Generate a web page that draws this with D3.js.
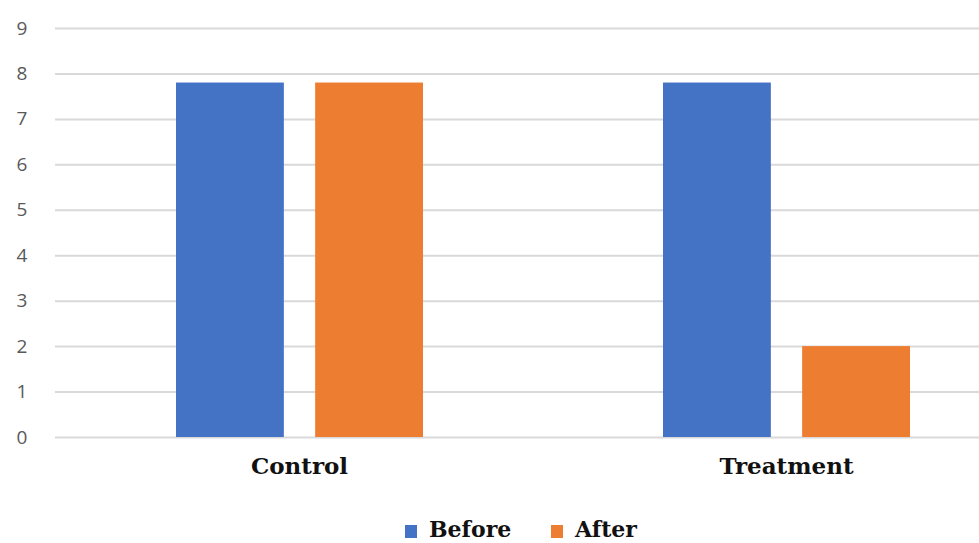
<!DOCTYPE html>
<html>
<head>
<meta charset="utf-8">
<script src="https://cdn.jsdelivr.net/npm/d3@7"></script>
<style>
  body { margin: 0; background: #fff; overflow: hidden; }
  .grid line { stroke: #d9d9d9; stroke-width: 2px; }
  .yaxis text { fill: #595959; font-family: "Open Sans", sans-serif; font-size: 19px; }
  .xlab { font-family: "DejaVu Serif", serif; font-weight: bold; font-size: 23px; fill: #111; }
  .legend text { font-family: "DejaVu Serif", serif; font-weight: bold; font-size: 22px; fill: #111; }
</style>
</head>
<body>
<svg width="979" height="543"></svg>
<script>
var categories = ["Control", "Treatment"];
var series = ["Before", "After"];
var beforeValues = [7.8, 7.8];
var afterValues = [7.8, 2];
var yTicks = [0, 1, 2, 3, 4, 5, 6, 7, 8, 9];
var colors = ["#4472c4", "#ed7d31"];

var svg = d3.select("svg");

var y = d3.scaleLinear()
    .domain([0, 9])
    .range([437, 28]);

// plot runs past the right edge, like the cropped picture
var x0 = d3.scaleBand()
    .domain(categories)
    .range([56, 1030]);

var x1 = d3.scaleBand()
    .domain(series)
    .range([120, 367])
    .paddingInner(0.225);

var color = d3.scaleOrdinal().domain(series).range(colors);

// gridlines
svg.append("g")
    .attr("class", "grid")
    .attr("transform", "translate(55,0)")
    .call(d3.axisLeft(y).tickValues(yTicks).tickSize(-930).tickFormat(""))
    .call(function(g) { g.select(".domain").remove(); });

// y labels
svg.append("g")
    .attr("class", "yaxis")
    .attr("transform", "translate(31,0)")
    .call(d3.axisLeft(y).tickValues(yTicks).tickSize(0).tickPadding(0).tickFormat(d3.format("d")))
    .call(function(g) { g.select(".domain").remove(); })
    .selectAll("text").attr("text-anchor", "middle").attr("dx", "-9");

var rows = categories.map(function(c, i) {
  return { cat: c, vals: [{ s: "Before", v: beforeValues[i] }, { s: "After", v: afterValues[i] }] };
});

var groups = svg.append("g").selectAll("g")
    .data(rows)
    .enter().append("g")
      .attr("transform", function(d) { return "translate(" + x0(d.cat) + ",0)"; });

groups.selectAll("rect")
    .data(function(d) { return d.vals; })
    .enter().append("rect")
      .attr("x", function(d) { return x1(d.s); })
      .attr("width", x1.bandwidth())
      .attr("y", function(d) { return y(d.v); })
      .attr("height", function(d) { return y(0) - y(d.v); })
      .attr("fill", function(d) { return color(d.s); });

groups.append("text")
    .attr("class", "xlab")
    .attr("x", x0.bandwidth() / 2)
    .attr("y", 474)
    .attr("text-anchor", "middle")
    .text(function(d) { return d.cat; });

// legend
var legend = svg.append("g").attr("class", "legend");
var legendX = [405, 551];
series.forEach(function(s, i) {
  legend.append("rect")
      .attr("x", legendX[i])
      .attr("y", 525)
      .attr("width", 12)
      .attr("height", 13)
      .attr("fill", color(s));
  legend.append("text")
      .attr("x", legendX[i] + 24)
      .attr("y", 537)
      .text(s);
});
</script>
</body>
</html>
